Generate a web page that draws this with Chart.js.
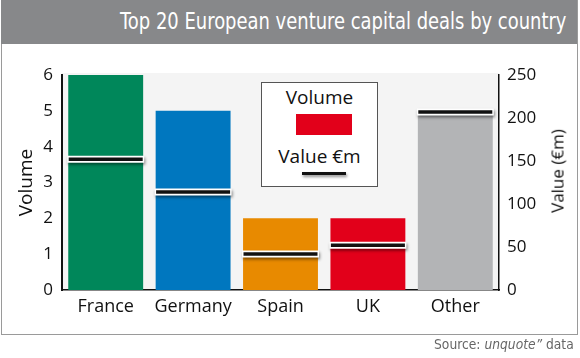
<!DOCTYPE html>
<html>
<head>
<meta charset="utf-8">
<script src="https://cdn.jsdelivr.net/npm/chart.js@4/dist/chart.umd.min.js"></script>
<style>
  html,body{margin:0;padding:0;background:#fff;}
  body{width:580px;height:358px;position:relative;overflow:hidden;font-family:"Open Sans",sans-serif;}
  #frame{position:absolute;left:1px;top:0;width:575px;height:333px;border:1px solid #9a9a9a;box-sizing:content-box;}
  #titlebar{position:absolute;left:1px;top:0;width:576px;height:44px;background:#87888a;}
  #title{position:absolute;right:11px;top:8px;color:#fff;font-family:"DejaVu Sans",sans-serif;font-size:23px;white-space:nowrap;transform:scaleX(0.78);transform-origin:right center;}
  #cwrap{position:absolute;left:0;top:0;width:580px;height:358px;}
  #legend{position:absolute;left:261px;top:82px;width:117px;height:105px;background:#fff;border:1px solid #555;box-sizing:border-box;}
  .lgtxt{position:absolute;left:0;width:100%;text-align:center;font-size:19px;color:#111;line-height:22px;}
  #swatch{position:absolute;left:34px;top:31px;width:56px;height:21px;background:#e2001a;}
  #lline{position:absolute;left:40px;top:89px;width:44px;height:3px;background:#111;box-shadow:1px 2px 3px rgba(0,0,0,0.45);}
  #ytitle2{position:absolute;left:557px;top:171px;transform:translate(-50%,-50%) rotate(-90deg);font-size:17px;color:#111;white-space:nowrap;}
  #source{position:absolute;right:6px;top:336px;font-family:"DejaVu Sans",sans-serif;font-size:14px;color:#666;white-space:nowrap;transform:scaleX(0.88);transform-origin:right center;}
</style>
</head>
<body>
<div id="frame"></div>
<div id="titlebar"><div id="title">Top 20 European venture capital deals by country</div></div>
<div id="cwrap"><canvas id="c" width="580" height="358"></canvas></div>
<div id="legend">
  <div class="lgtxt" style="top:3px;">Volume</div>
  <div id="swatch"></div>
  <div class="lgtxt" style="top:62px;">Value €m</div>
  <div id="lline"></div>
</div>
<div id="ytitle2">Value (€m)</div>
<div id="source">Source: <i>unquote”</i> data</div>
<script>
const categories = ["France", "Germany", "Spain", "UK", "Other"];
const volume = [6, 5, 2, 2, 5];
const valueEurM = [152, 114, 42, 52, 207];
const barColors = ["#00875a", "#0077bf", "#e88a00", "#e2001a", "#b3b4b6"];
const volumeTicks = [0, 1, 2, 3, 4, 5, 6];
const valueTicks = [0, 50, 100, 150, 200, 250];

const tickFont = {family: "Open Sans", size: 17};

const plotBg = {
  id: 'plotBg',
  beforeDraw(chart) {
    const {ctx, chartArea: a} = chart;
    ctx.save();
    ctx.fillStyle = '#f4f4f4';
    ctx.fillRect(a.left, a.top - 2, a.right - a.left, a.bottom - a.top + 2);
    ctx.restore();
  }
};

const lineShadow = {
  id: 'lineShadow',
  beforeDatasetDraw(chart, args) {
    if (args.index === 1) {
      const ctx = chart.ctx;
      ctx.save();
      ctx.shadowColor = 'rgba(0,0,0,0.45)';
      ctx.shadowBlur = 3;
      ctx.shadowOffsetX = 1;
      ctx.shadowOffsetY = 2;
    }
  },
  afterDatasetDraw(chart, args) {
    if (args.index === 1) chart.ctx.restore();
  }
};

new Chart(document.getElementById('c'), {
  data: {
    labels: categories,
    datasets: [
      {
        type: 'bar',
        label: 'Volume',
        data: volume,
        backgroundColor: barColors,
        borderWidth: 0,
        yAxisID: 'y',
        categoryPercentage: 1,
        barPercentage: 0.857,
        order: 3
      },
      {
        type: 'line',
        label: 'Value €m outline',
        data: valueEurM,
        yAxisID: 'y2',
        showLine: false,
        pointStyle: 'line',
        pointRadius: 38.5,
        pointHoverRadius: 38.5,
        borderColor: '#ffffff',
        pointBorderColor: '#ffffff',
        pointBorderWidth: 7,
        borderWidth: 7,
        order: 2
      },
      {
        type: 'line',
        label: 'Value €m',
        data: valueEurM,
        yAxisID: 'y2',
        showLine: false,
        pointStyle: 'line',
        pointRadius: 37,
        pointHoverRadius: 37,
        borderColor: '#111111',
        pointBorderColor: '#111111',
        pointBorderWidth: 3.5,
        borderWidth: 3.5,
        order: 1
      }
    ]
  },
  options: {
    responsive: false,
    animation: false,
    events: [],
    layout: {padding: {top: 75, left: 0, right: 0, bottom: 0}},
    plugins: {
      legend: {display: false},
      tooltip: {enabled: false},
      title: {display: false}
    },
    scales: {
      x: {
        offset: true,
        grid: {display: false, drawTicks: false},
        border: {display: true, color: '#111', width: 1.5},
        ticks: {font: {family: "Open Sans", size: 18}, color: '#111', padding: 6},
        afterFit(s) { s.height = 68; }
      },
      y: {
        position: 'left',
        min: 0, max: 6,
        afterBuildTicks(s) { s.ticks = volumeTicks.map(v => ({value: v})); },
        grid: {display: false, drawTicks: false},
        border: {display: true, color: '#111', width: 2},
        ticks: {font: tickFont, color: '#111', padding: 9},
        title: {display: true, text: 'Volume', font: {family: "Open Sans", size: 19}, color: '#111', padding: {top: 15, bottom: 0}},
        afterFit(s) { s.width = 62; }
      },
      y2: {
        position: 'right',
        min: 0, max: 250,
        afterBuildTicks(s) { s.ticks = valueTicks.map(v => ({value: v})); },
        grid: {display: false, drawTicks: false},
        border: {display: true, color: '#111', width: 1.5},
        ticks: {font: tickFont, color: '#111', padding: 8},
        afterFit(s) { s.width = 81; }
      }
    }
  },
  plugins: [plotBg, lineShadow]
});
</script>
</body>
</html>
